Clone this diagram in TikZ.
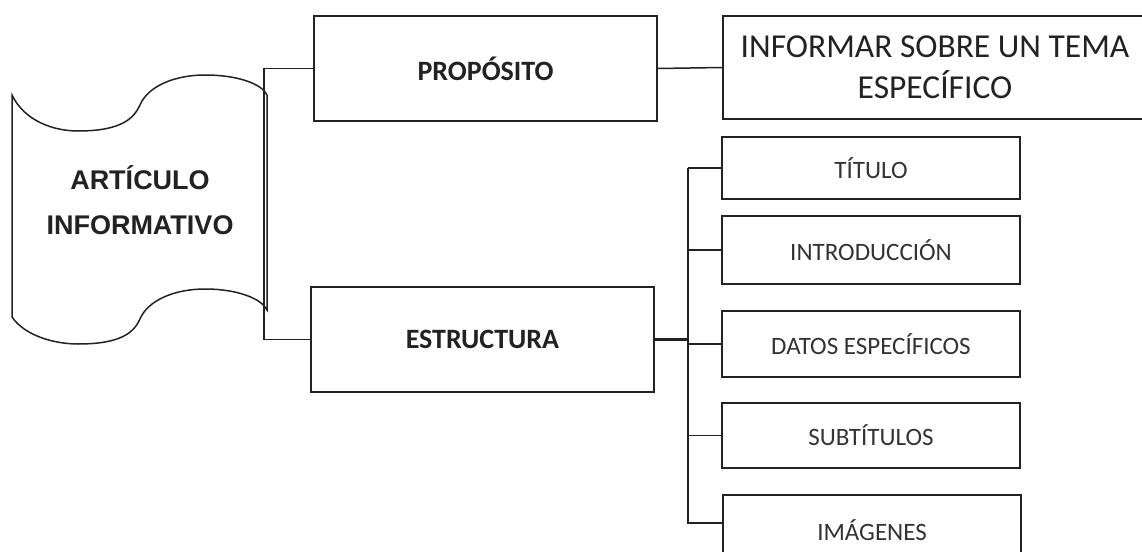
\documentclass[tikz,border=0pt]{standalone}
\usepackage{fontspec}
\setmainfont{Carlito}
\newfontfamily\scrollfont{Liberation Sans}
\definecolor{ink}{HTML}{222222}
\begin{document}
\begin{tikzpicture}[x=1pt,y=-1pt,
  conn/.style={draw=ink, line width=1.5pt},
  box/.style={draw=ink, line width=1.5pt, inner sep=0pt, align=center, text=ink},
  bigbox/.style={box, minimum width=343pt, minimum height=105pt, font=\bfseries\fontsize{28}{32}\selectfont},
  leaf/.style={box, minimum width=298pt, font=\fontsize{25}{29}\selectfont, text=black!80}
]
\useasboundingbox (0,0) rectangle (1142,551);
\clip (0,0) rectangle (1142,551);
% scroll
\draw[ink, line width=1.5pt, fill=white]
  (12,95) .. controls (25,122) and (55,131) .. (78,131)
  .. controls (122,131) and (134,118) .. (140,105)
  .. controls (148,86) and (175,75) .. (205,75)
  .. controls (238,75) and (262,84) .. (267,95)
  -- (267,310)
  .. controls (262,299) and (238,289) .. (205,289)
  .. controls (175,289) and (148,300) .. (140,319)
  .. controls (134,332) and (122,344) .. (78,344)
  .. controls (55,344) and (25,336) .. (12,317)
  -- cycle;
\node[text=ink, align=center, font=\scrollfont\bfseries\fontsize{27}{45}\selectfont] (art) at (140,200) {ARTÍCULO\\INFORMATIVO};

\node[bigbox] (prop) at (485.5,68.5) {PROPÓSITO};
\node[bigbox] (estr) at (482.5,339.5) {ESTRUCTURA};
\node[box, minimum width=424pt, minimum height=103pt, font=\fontsize{33.5}{41}\selectfont] (info) at (935,67.5) {INFORMAR SOBRE UN TEMA\\ESPECÍFICO};

\node[leaf, minimum height=62pt] (tit) at (871,168) {TÍTULO};
\node[leaf, minimum height=68pt] (intro) at (871,250) {INTRODUCCIÓN};
\node[leaf, minimum height=66pt] (datos) at (871,344) {DATOS ESPECÍFICOS};
\node[leaf, minimum height=65pt] (subt) at (871,435.5) {SUBTÍTULOS};
\node[leaf, minimum height=70pt] (img) at (872,530) {IMÁGENES};

% connectors
\coordinate (sx) at (264,0);
\draw[conn] (prop.west) -- (prop.west -| sx) -- (estr.west -| sx) -- (estr.west);
\draw[conn] (prop.east) -- (info.west);
\coordinate (bus) at (688,339.5);
\coordinate (imgc) at ([yshift=7pt]img.west);
\draw[conn, line width=2.2pt] (estr.east) -- (bus);
\draw[conn] (bus |- tit.west) -- (tit.west);
\draw[conn] (bus |- intro.west) -- (intro.west);
\draw[conn] (bus |- datos.west) -- (datos.west);
\draw[conn] (bus |- subt.west) -- (subt.west);
\draw[conn] (tit.west -| bus) -- (imgc -| bus) -- (imgc);
\end{tikzpicture}
\end{document}
